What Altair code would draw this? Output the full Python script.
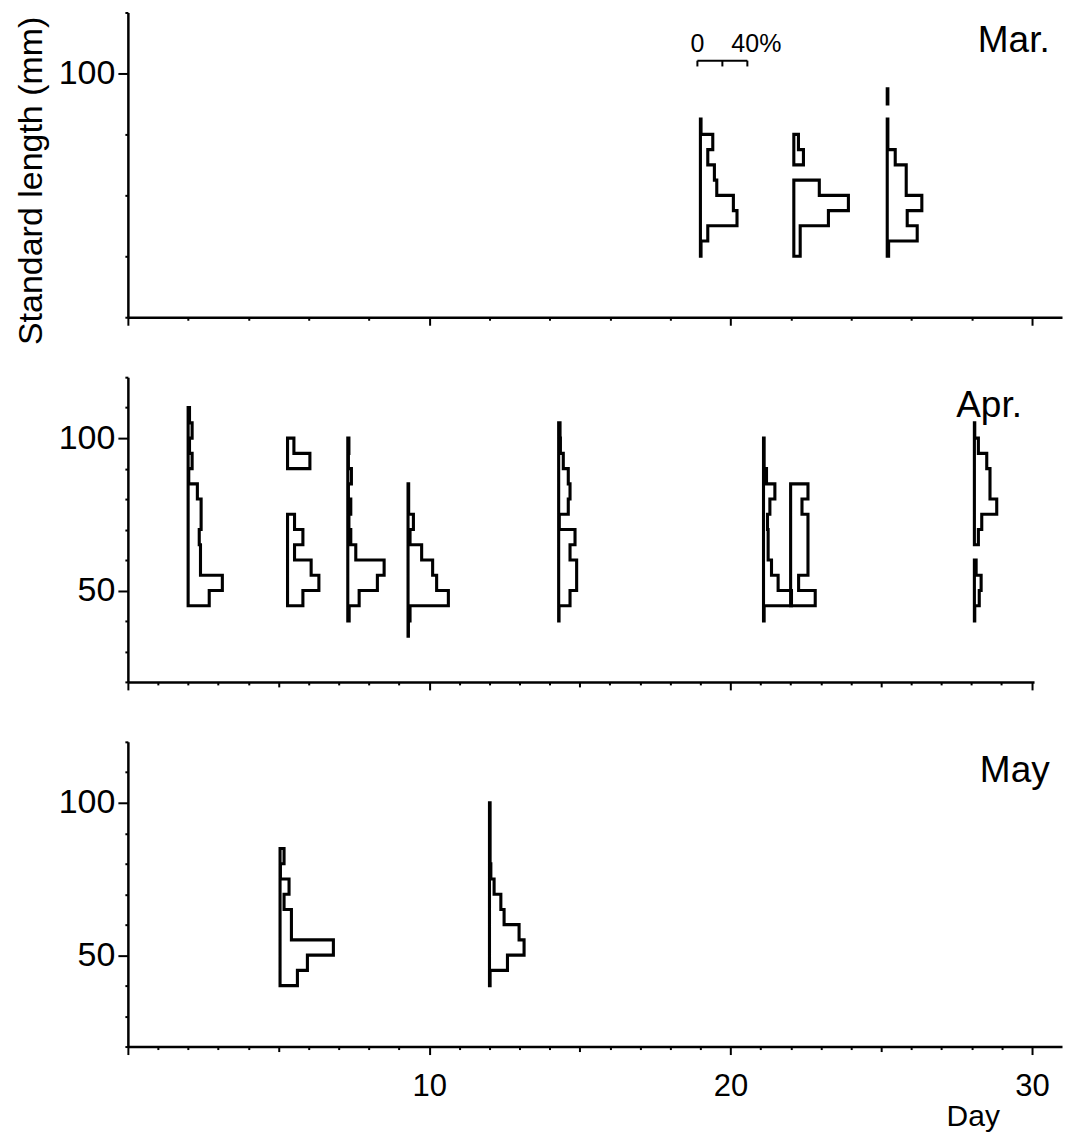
import altair as alt
import pandas as pd

# ---------------- data ----------------
BIN_MM = 5  # class width of standard length (mm)

MONTHS = ["Mar.", "Apr.", "May"]

# sampling days (position of each histogram's baseline)
MAR_DAYS = [19.0, 22.1, 25.2]
APR_DAYS = [2.0, 5.3, 7.3, 9.3, 14.3, 21.1, 22.0, 28.1]
MAY_DAYS = [5.05, 12.0]

# lower edge (mm) of the first length class of each histogram
MAR_START = [40, 40, 40]
APR_START = [45, 45, 40, 35, 40, 40, 45, 40]
MAY_START = [40, 40]

# percentage in each 5-mm class, bottom to top (None = empty class, no outline)
MAR_PCT = [
    [0.5, 5.9, 29.3, 26.4, 13.1, 11.2, 5.9, 9.9, 0.5],
    [5.1, 5.1, 27.7, 43.7, 20.4, None, 7.7, 3.7],
    [1.1, 24.0, 16.0, 27.7, 15.2, 15.2, 6.4, 0.5, 0.5, None, 0.5],
]
APR_PCT = [
    [16.9, 27.4, 9.9, 9.9, 8.9, 10.4, 10.4, 7.4, 0.5, 3.2, 1.1, 3.2, 1.1],
    [12.3, 25.1, 18.9, 5.6, 12.3, 5.6, None, None, None, 17.9, 5.1],
    [1.1, 9.1, 23.7, 29.1, 6.4, 2.4, 0.9, 2.4, 0.5, 2.9, 0.5, 0.9],
    [0.3, 1.6, 32.3, 22.9, 19.7, 10.9, 1.6, 4.3, 0.5, 0.5],
    [0.3, 9.1, 14.4, 14.4, 9.1, 13.1, 0.5, 7.7, 9.1, 7.7, 3.7, 1.4, 1.1],
    [0.5, 22.4, 11.7, 6.4, 3.7, 3.7, 3.2, 5.1, 9.1, 2.4, 0.5, 0.5],
    [19.7, 6.4, 13.9, 13.9, 13.9, 13.9, 9.1, 13.9],
    [0.3, 3.9, 5.4, 1.4, None, 3.2, 5.9, 17.9, 12.5, 12.5, 9.9, 3.2, 0.3],
]
MAY_PCT = [
    [13.9, 21.9, 42.7, 9.1, 9.1, 3.2, 7.2, 0.3, 3.2],
    [0.5, 14.4, 27.7, 23.7, 11.7, 9.1, 3.7, 1.1, 0.5, 0.5, 0.5, 0.5],
]

# percentage scale bar
SCALE_TICKS = [0, 20, 40]
SCALE_TEXT = ["0", "", "40%"]

Y_TICKS = [20, 30, 40, 50, 60, 70, 80, 90, 100, 110, 120]
X_TICKS = list(range(0, 31))

# ---------------- drawing constants ----------------
DAYS_PER_PCT = 1.658 / 40.0      # 40 % spans 1.658 day units
PX_PER_DAY = 30.15
SCALE_DAY, SCALE_Y, SCALE_TICK_Y, SCALE_TEXT_Y = 18.9, 104.2, 102.3, 107.2
FONT = "Liberation Sans, Arial, sans-serif"
MAJOR_Y = "datum.value == 50 || datum.value == 100"


def outline_rows(month, days, starts, pcts):
    rows = []
    for h, (day, start, pct) in enumerate(zip(days, starts, pcts)):
        runs, run = [], []
        for i, p in enumerate(pct):
            if p is None:
                if run:
                    runs.append(run)
                    run = []
            else:
                run.append((start + i * BIN_MM, p))
        if run:
            runs.append(run)
        for r, rn in enumerate(runs):
            lo = rn[0][0]
            hi = rn[-1][0] + BIN_MM
            pts = [(0.0, lo)]
            for b, p in rn:
                pts.append((p, b))
                pts.append((p, b + BIN_MM))
            pts.append((0.0, hi))
            pts.append((0.0, lo))
            for k, (p, L) in enumerate(pts):
                rows.append(dict(poly=f"{month}-{h}-{r}", k=k, day=day, pct=p, length=L))
    return pd.DataFrame(rows)


def y_axis(title):
    kw = dict(
        values=Y_TICKS,
        labelExpr=f"{MAJOR_Y} ? datum.label : ''",
        tickSize={"condition": {"test": MAJOR_Y, "value": 10}, "value": 3},
        labelFontSize={"condition": {"test": MAJOR_Y, "value": 34}, "value": 0},
        tickWidth=2, domainWidth=2.5, domainColor="black", tickColor="black",
        labelFont=FONT, labelColor="black", labelPadding=3,
        labelOverlap=False, grid=False,
    )
    if title:
        kw.update(title=title, titleFont=FONT, titleFontSize=34, titleFontWeight="normal",
                  titleColor="black", titleAngle=270, titleAlign="center", titleBaseline="middle",
                  titleX=-96, titleY=168)
    else:
        kw.update(title=None)
    return alt.Axis(**kw)


def x_axis(labels):
    kw = dict(
        values=X_TICKS,
        tickSize={"condition": [
            {"test": "datum.value % 10 === 0", "value": 8},
            {"test": "datum.value % 5 === 0", "value": 5}], "value": 3},
        tickWidth=2, domainWidth=2.5, domainColor="black", tickColor="black",
        grid=False, labelOverlap=False,
    )
    if labels:
        kw.update(labelExpr="datum.value % 10 === 0 && datum.value > 0 ? datum.label : ''",
                  labelFont=FONT, labelFontSize=31, labelColor="black", labelPadding=17,
                  labelFlush=False,
                  title="Day", titleFont=FONT, titleFontSize=30, titleFontWeight="normal",
                  titleColor="black", titleAlign="left", titleBaseline="alphabetic",
                  titleX=819, titleY=79)
    else:
        kw.update(labels=False, title=None)
    return alt.Axis(**kw)


def panel(month, days, starts, pcts, xmax, ytitle, xlabels, scale_bar=False):
    df = outline_rows(month, days, starts, pcts)
    xs = alt.Scale(domain=[0, xmax], nice=False, zero=False)
    ys = alt.Scale(domain=[20, 120], nice=False, zero=False)
    lines = alt.Chart(df).transform_calculate(
        x=f"datum.day + datum.pct * {DAYS_PER_PCT}"
    ).mark_line(color="black", strokeWidth=3.1, strokeJoin="miter", strokeCap="square").encode(
        x=alt.X("x:Q", scale=xs, axis=x_axis(xlabels)),
        y=alt.Y("length:Q", scale=ys, axis=y_axis(ytitle)),
        detail="poly:N",
        order="k:Q",
    )
    lab = alt.Chart(pd.DataFrame({"m": [month]})).mark_text(
        font=FONT, fontSize=37, align="right", baseline="alphabetic", color="black"
    ).encode(x=alt.value(xmax * PX_PER_DAY - 12), y=alt.value(40), text="m:N")
    layers = [lines, lab]
    if scale_bar:
        sb = pd.DataFrame({"t": SCALE_TICKS, "txt": SCALE_TEXT})
        sb_base = alt.Chart(sb).transform_calculate(
            xx=f"{SCALE_DAY} + datum.t * {DAYS_PER_PCT}",
            x0=f"{SCALE_DAY}",
            x1=f"{SCALE_DAY} + {max(SCALE_TICKS)} * {DAYS_PER_PCT}",
        )
        hline = sb_base.transform_filter("datum.t == 0").mark_rule(color="black", strokeWidth=2).encode(
            x=alt.X("x0:Q", scale=xs), x2="x1:Q", y=alt.datum(SCALE_Y, scale=ys))
        ticks = sb_base.mark_rule(color="black", strokeWidth=2).encode(
            x=alt.X("xx:Q", scale=xs), y=alt.datum(SCALE_Y, scale=ys), y2=alt.datum(SCALE_TICK_Y))
        t0 = sb_base.transform_filter("datum.t == 0").mark_text(
            font=FONT, fontSize=25, align="center", baseline="alphabetic", color="black").encode(
            x=alt.X("xx:Q", scale=xs), y=alt.datum(SCALE_TEXT_Y, scale=ys), text="txt:N")
        t40 = sb_base.transform_filter("datum.t == 40").mark_text(
            font=FONT, fontSize=25, align="left", baseline="alphabetic", dx=-16, color="black").encode(
            x=alt.X("xx:Q", scale=xs), y=alt.datum(SCALE_TEXT_Y, scale=ys), text="txt:N")
        layers += [hline, ticks, t0, t40]
    return alt.layer(*layers).properties(width=round(xmax * PX_PER_DAY), height=305)


p1 = panel(MONTHS[0], MAR_DAYS, MAR_START, MAR_PCT, 31.0, "Standard length (mm)", False, scale_bar=True)
p2 = panel(MONTHS[1], APR_DAYS, APR_START, APR_PCT, 30.08, None, False)
p3 = panel(MONTHS[2], MAY_DAYS, MAY_START, MAY_PCT, 31.0, None, True)

chart = alt.vconcat(p1, p2, p3, spacing=60, bounds="flush").properties(
    padding={"left": 15, "top": 11, "right": 5, "bottom": 5},
    background="white",
).configure_view(stroke=None)

chart.save("out.html", embed_options={"renderer": "svg", "actions": False})
